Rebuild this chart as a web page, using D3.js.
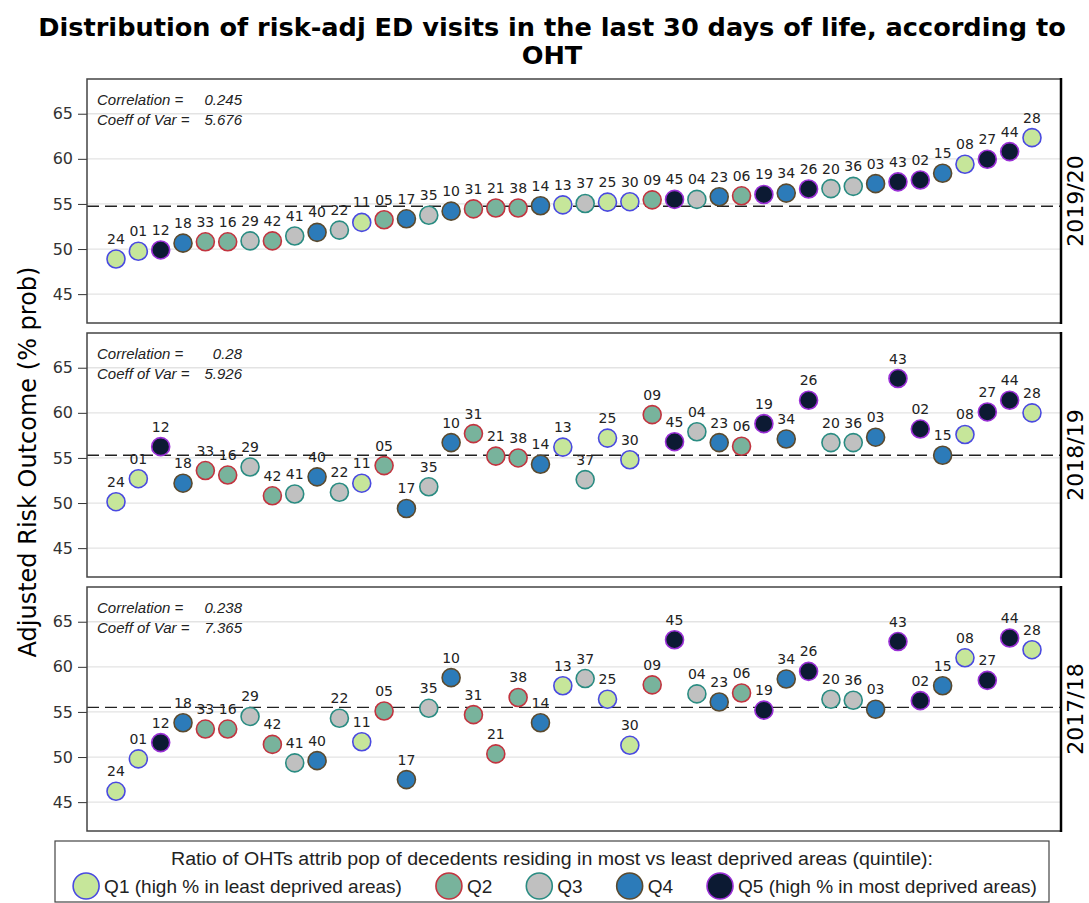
<!DOCTYPE html>
<html>
<head>
<meta charset="utf-8">
<script src="https://cdn.jsdelivr.net/npm/d3@7"></script>
<style>
  html, body { margin: 0; padding: 0; background: #fff; }
  svg { display: block; }
</style>
</head>
<body>
<svg id="chart" width="1089" height="903"></svg>
<script>
// ---------------- DATA ----------------
const categories = ["24","01","12","18","33","16","29","42","41","40","22","11","05","17","35","10","31","21","38","14","13","37","25","30","09","45","04","23","06","19","34","26","20","36","03","43","02","15","08","27","44","28"];
const quintiles  = [1,1,5,4,2,2,3,2,3,4,3,1,2,4,3,4,2,2,2,4,1,3,1,1,2,5,3,4,2,5,4,5,3,3,4,5,5,4,1,5,5,1];

const years = ["2019/20","2018/19","2017/18"];

const values2019 = [48.9,49.75,49.9,50.65,50.8,50.8,50.9,50.9,51.45,51.85,52.1,52.95,53.25,53.35,53.75,54.2,54.45,54.55,54.55,54.8,54.9,55.05,55.2,55.25,55.45,55.5,55.5,55.8,55.9,56.05,56.2,56.65,56.7,56.95,57.25,57.45,57.65,58.4,59.4,59.95,60.8,62.35];
const values2018 = [50.15,52.7,56.25,52.2,53.6,53.1,54.0,50.8,51.0,52.9,51.2,52.2,54.15,49.4,51.8,56.7,57.7,55.2,55.0,54.3,56.2,52.6,57.2,54.8,59.8,56.8,57.9,56.7,56.3,58.8,57.1,61.4,56.7,56.7,57.3,63.8,58.2,55.3,57.6,60.1,61.4,60.0];
const values2017 = [46.2,49.8,51.6,53.8,53.1,53.1,54.5,51.4,49.35,49.6,54.3,51.7,55.1,47.5,55.4,58.8,54.7,50.35,56.6,53.8,57.9,58.7,56.4,51.3,58.0,63.0,57.0,56.1,57.1,55.2,58.65,59.5,56.4,56.3,55.3,62.8,56.25,57.9,61.0,58.5,63.2,61.9];

const meanValues   = [54.75, 55.3, 55.5];
const correlations = ["0.245", "0.28", "0.238"];
const coeffOfVar   = ["5.676", "5.926", "7.365"];

const yTicks = [45, 50, 55, 60, 65];

const legendLabels = ["Q1 (high % in least deprived areas)", "Q2", "Q3", "Q4", "Q5 (high % in most deprived areas)"];
const quintileFill   = ["#c6e69a", "#78b39c", "#c0c0c0", "#2c7bb9", "#0c1a33"];
const quintileStroke = ["#4a4ae0", "#c2343f", "#2a8c82", "#5b4a2e", "#9a2fd6"];

const titleLines = ["Distribution of risk-adj ED visits in the last 30 days of life, according to", "OHT"];
const yAxisTitle = "Adjusted Risk Outcome (% prob)";
const legendTitle = "Ratio of OHTs attrib pop of decedents residing in most vs least deprived areas (quintile):";

const seriesValues = [values2019, values2018, values2017];

// ---------------- LAYOUT ----------------
const svg = d3.select("#chart");
const plotLeft = 87, plotRight = 1061;
const panelTops = [79, 333, 587];
const panelH = 244;
const sans = "'DejaVu Sans', sans-serif";
const arial = "'Liberation Sans', Arial, sans-serif";

// Title
svg.selectAll("text.title").data(titleLines).join("text")
  .attr("class", "title")
  .attr("x", 552).attr("y", (d, i) => 36 + i * 28)
  .attr("text-anchor", "middle")
  .style("font-family", sans).style("font-weight", "bold").style("font-size", "25.6px")
  .attr("fill", "#000")
  .text(d => d);

// Y axis title
svg.append("text")
  .attr("transform", `translate(36, 462) rotate(-90)`)
  .attr("text-anchor", "middle")
  .style("font-family", sans).style("font-size", "24px")
  .attr("fill", "#000")
  .text(yAxisTitle);

const x = d3.scalePoint().domain(categories).range([116, 1032]);

years.forEach((yr, p) => {
  const top = panelTops[p];
  const g = svg.append("g");
  const y = d3.scaleLinear().domain([41.8, 68.85]).range([top + panelH, top]);

  // gridlines
  g.selectAll("line.grid").data(yTicks).join("line")
    .attr("x1", plotLeft).attr("x2", plotRight)
    .attr("y1", d => y(d)).attr("y2", d => y(d))
    .attr("stroke", "#e3e3e3").attr("stroke-width", 1.3);

  // y axis
  const axis = d3.axisLeft(y).tickValues(yTicks).tickSize(9).tickPadding(5);
  const ag = g.append("g").attr("transform", `translate(${plotLeft},0)`).call(axis);
  ag.select(".domain").remove();
  ag.selectAll(".tick line").attr("stroke", "#333").attr("stroke-width", 1);
  ag.selectAll(".tick text").style("font-family", sans).style("font-size", "16px").attr("fill", "#333");

  // mean reference line
  g.append("line")
    .attr("x1", plotLeft).attr("x2", plotRight)
    .attr("y1", y(meanValues[p])).attr("y2", y(meanValues[p]))
    .attr("stroke", "#222").attr("stroke-width", 1.4)
    .attr("stroke-dasharray", "12,6");

  // frame
  g.append("rect")
    .attr("x", plotLeft).attr("y", top)
    .attr("width", plotRight - plotLeft).attr("height", panelH)
    .attr("fill", "none").attr("stroke", "#444").attr("stroke-width", 1.5);

  // strip separator
  g.append("line")
    .attr("x1", plotRight).attr("x2", plotRight)
    .attr("y1", top - 1).attr("y2", top + panelH + 1)
    .attr("stroke", "#000").attr("stroke-width", 2.5);

  // strip label
  g.append("text")
    .attr("transform", `translate(1083, ${top + panelH / 2}) rotate(-90)`)
    .attr("text-anchor", "middle")
    .style("font-family", sans).style("font-size", "22px")
    .attr("fill", "#000")
    .text(yr);

  // stats annotation
  const ann = [["Correlation =", correlations[p]], ["Coeff of Var =", coeffOfVar[p]]];
  ann.forEach((a, i) => {
    g.append("text")
      .attr("x", 97).attr("y", top + 26 + i * 20)
      .style("font-family", arial).style("font-style", "italic").style("font-size", "15px")
      .attr("fill", "#222").text(a[0]);
    g.append("text")
      .attr("x", 242).attr("y", top + 26 + i * 20)
      .attr("text-anchor", "end")
      .style("font-family", arial).style("font-style", "italic").style("font-size", "15px")
      .attr("fill", "#222").text(a[1]);
  });

  const data = categories.map((c, i) => ({ c, q: quintiles[i], v: seriesValues[p][i] }));

  // points
  g.selectAll("circle.pt").data(data).join("circle")
    .attr("cx", d => x(d.c)).attr("cy", d => y(d.v)).attr("r", 9)
    .attr("fill", d => quintileFill[d.q - 1])
    .attr("stroke", d => quintileStroke[d.q - 1]).attr("stroke-width", 1.6);

  // labels
  g.selectAll("text.lbl").data(data).join("text")
    .attr("x", d => x(d.c)).attr("y", d => y(d.v) - 15)
    .attr("text-anchor", "middle")
    .style("font-family", sans).style("font-size", "14px")
    .attr("fill", "#222")
    .text(d => d.c);
});

// ---------------- LEGEND ----------------
const lg = svg.append("g");
lg.append("rect").attr("x", 55).attr("y", 841).attr("width", 994).attr("height", 61)
  .attr("fill", "#fff").attr("stroke", "#444").attr("stroke-width", 1.2);
lg.append("text").attr("x", 552).attr("y", 865).attr("text-anchor", "middle")
  .style("font-family", arial).style("font-size", "18px").attr("fill", "#222")
  .attr("textLength", 762).attr("lengthAdjust", "spacingAndGlyphs")
  .text(legendTitle);

const itemsG = lg.append("g");
let cursor = 0;
const markerR = 13, textGap = 5, itemGap = 34;
legendLabels.forEach((lab, i) => {
  const ig = itemsG.append("g");
  ig.append("circle").attr("cx", cursor + markerR).attr("cy", 886).attr("r", markerR)
    .attr("fill", quintileFill[i]).attr("stroke", quintileStroke[i]).attr("stroke-width", 1.6);
  const t = ig.append("text").attr("x", cursor + 2 * markerR + textGap).attr("y", 893)
    .style("font-family", arial).style("font-size", "19px").attr("fill", "#222").text(lab);
  const w = t.node().getComputedTextLength();
  cursor += 2 * markerR + textGap + w + itemGap;
});
const totalW = cursor - itemGap;
itemsG.attr("transform", `translate(${555 - totalW / 2},0)`);
</script>
</body>
</html>
